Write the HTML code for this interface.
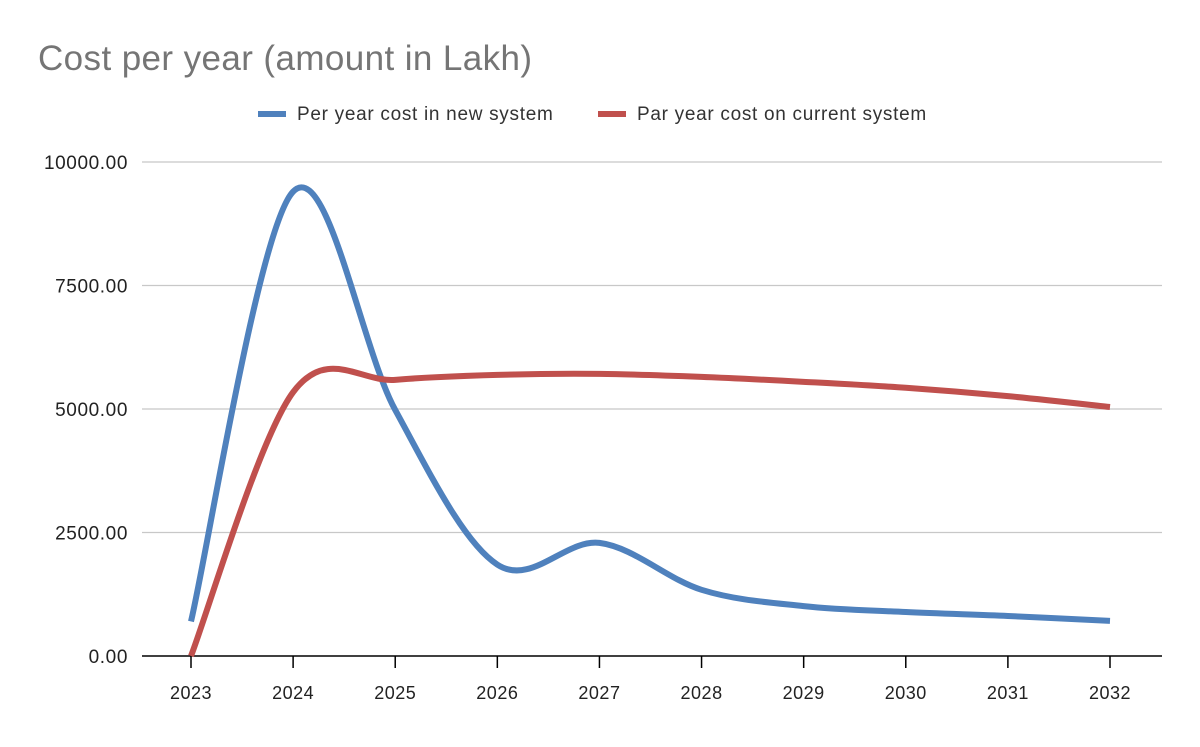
<!DOCTYPE html>
<html><head><meta charset="utf-8"><style>
body{margin:0;background:#fff;font-family:"Liberation Sans",sans-serif}
</style></head><body>
<svg width="1200" height="742" viewBox="0 0 1200 742">
<text x="38" y="70" font-size="35" letter-spacing="0.4" fill="#757575">Cost per year (amount in Lakh)</text>
<g>
<g><line x1="258" y1="114" x2="286" y2="114" stroke="#4f81bd" stroke-width="6"/><text x="297" y="120" font-size="19" letter-spacing="0.7" fill="#333">Per year cost in new system</text></g>
<g><line x1="598" y1="114" x2="626" y2="114" stroke="#c0504d" stroke-width="6"/><text x="637" y="120" font-size="19" letter-spacing="0.7" fill="#333">Par year cost on current system</text></g>
</g>
<g id="grid"></g><g id="axes"></g><g id="series"></g>
</svg>
<script>
const categories=["2023","2024","2025","2026","2027","2028","2029","2030","2031","2032"];
const newSystem=[700,9400,4980,1850,2290,1340,1010,890,810,710];
const currentSystem=[0,5340,5590,5690,5710,5650,5550,5430,5260,5040];
const yTicks=[0,2500,5000,7500,10000];
const yTickLabels=["0.00","2500.00","5000.00","7500.00","10000.00"];
const NS="http://www.w3.org/2000/svg";
const x0=191,x1=1110,yb=656,yt=162;
function xs(i){return x0+(x1-x0)*i/(categories.length-1);}
function ys(v){return yb-(yb-yt)*v/10000;}
function mk(t,a,p){const e=document.createElementNS(NS,t);for(const k in a)e.setAttribute(k,a[k]);p.appendChild(e);return e;}
const grid=document.getElementById('grid'),axes=document.getElementById('axes'),ser=document.getElementById('series');
yTicks.forEach((v,i)=>{
 if(v>0){const l=mk('line',{x1:142,x2:1162,y1:ys(v),y2:ys(v),stroke:'#c8c8c8','stroke-width':1.2},grid);
 }
 const t=mk('text',{x:128,y:ys(v)+7,'font-size':19,'letter-spacing':0.6,'text-anchor':'end',fill:'#222'},axes);t.textContent=yTickLabels[i];
 
});
const ax=mk('line',{x1:142,x2:1162,y1:yb,y2:yb,stroke:'#000','stroke-width':1.5},axes);

categories.forEach((c,i)=>{
 const tk=mk('line',{x1:xs(i),x2:xs(i),y1:yb,y2:yb+12,stroke:'#000','stroke-width':1.5},axes);
 
 const t=mk('text',{x:xs(i),y:699,'font-size':18,'letter-spacing':0.5,'text-anchor':'middle',fill:'#222'},axes);t.textContent=c;
 
});
function path(vals){
 const p=vals.map((v,i)=>[xs(i),ys(v)]);let d='M'+p[0][0]+','+p[0][1];
 for(let i=0;i<p.length-1;i++){const a=p[Math.max(i-1,0)],b=p[i],c=p[i+1],e=p[Math.min(i+2,p.length-1)];
  d+=' C'+(b[0]+(c[0]-a[0])/6)+','+(b[1]+(c[1]-a[1])/6)+' '+(c[0]-(e[0]-b[0])/6)+','+(c[1]-(e[1]-b[1])/6)+' '+c[0]+','+c[1];}
 return d;}
const pn=mk('path',{d:path(newSystem),fill:'none',stroke:'#4f81bd','stroke-width':6,'stroke-linejoin':'round'},ser);

const pc=mk('path',{d:path(currentSystem),fill:'none',stroke:'#c0504d','stroke-width':6,'stroke-linejoin':'round'},ser);

</script>
</body></html>
